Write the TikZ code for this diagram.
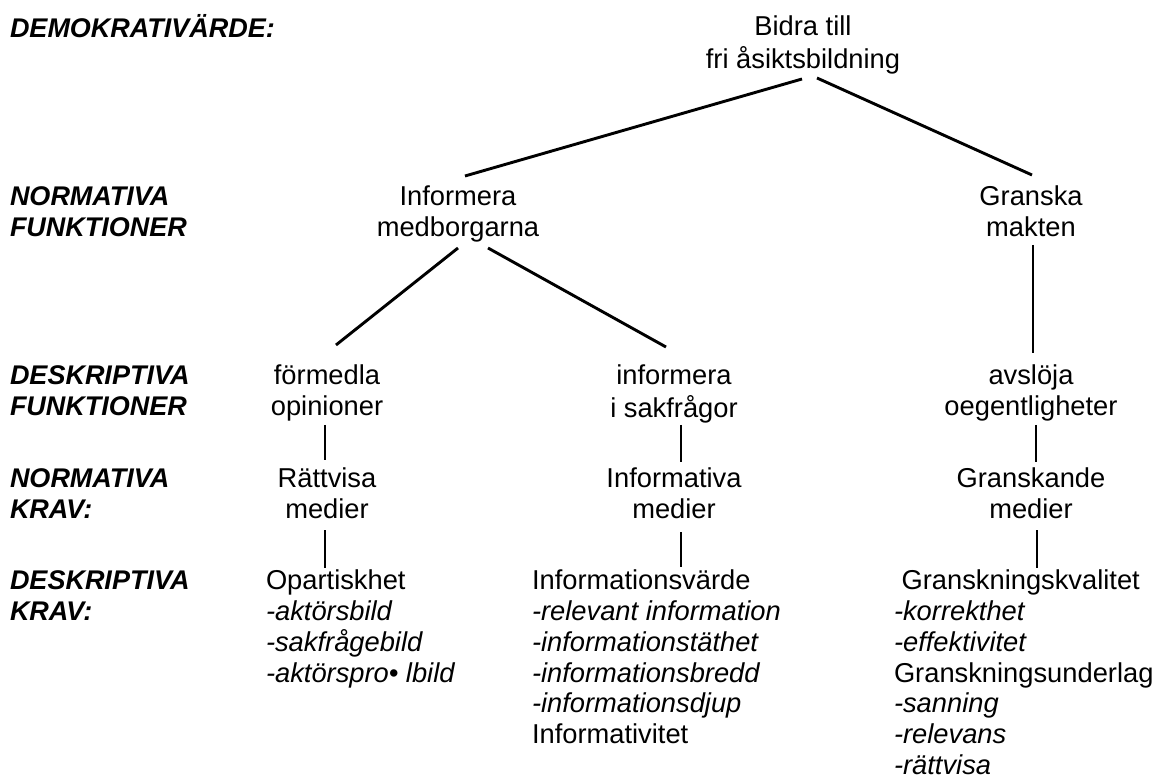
\documentclass[tikz,border=0pt]{standalone}
\usepackage{fontspec}
\setmainfont{Liberation Sans}
\begin{document}
\begin{tikzpicture}[x=1pt,y=-1pt,
  txt/.style={inner sep=0pt, outer sep=0pt, font=\fontsize{27.3}{30.7}\selectfont},
  ctr/.style={txt, anchor=north, align=center},
  lft/.style={txt, anchor=north west, align=left},
  lvl/.style={lft, font=\fontsize{27}{30.7}\selectfont\bfseries\itshape},
  conn/.style={line width=2.9pt}]
\useasboundingbox (0,0) rectangle (1152,783);
% level labels
\node[lvl] (demo) at (10,14.5) {\strut DEMOKRATIVÄRDE:};
\node[lvl] (nf) at (10,184.5) {\strut NORMATIVA\\FUNKTIONER};
\node[lvl] (df) at (10,363.5) {\strut DESKRIPTIVA\\FUNKTIONER};
\node[lvl] (nk) at (10,466.5) {\strut NORMATIVA\\KRAV:};
\node[lvl] (dk) at (10,568.5) {\strut DESKRIPTIVA\\KRAV:};
% tree
\node[ctr] (bidra) at (803,14.5) {\strut Bidra till\\fri åsiktsbildning};
\node[ctr] (info) at (458,184.5) {\strut Informera\\medborgarna};
\node[ctr] (gran) at (1031,184.5) {\strut Granska\\makten};
\node[ctr] (form) at (327,363.5) {\strut förmedla\\opinioner};
\node[ctr] (insak) at (674,363.5) {\strut informera\\i sakfrågor};
\node[ctr] (avsl) at (1031,363.5) {\strut avslöja\\oegentligheter};
\node[ctr] (ratt) at (327,466.5) {\strut Rättvisa\\medier};
\node[ctr] (infm) at (674,466.5) {\strut Informativa\\medier};
\node[ctr] (grm) at (1031,466.5) {\strut Granskande\\medier};
\node[lft] (opart) at (266,568.5) {\strut Opartiskhet\\\textit{-aktörsbild}\\\textit{-sakfrågebild}\\\textit{-aktörspro• lbild}};
\node[lft] (infv) at (532,568.5) {\strut Informationsvärde\\\textit{-relevant information}\\\textit{-informationstäthet}\\\textit{-informationsbredd}\\\textit{-informationsdjup}\\Informativitet};
\node[lft] (gkv) at (894,568.5) {\strut\hspace*{0.278em}Granskningskvalitet\\\textit{-korrekthet}\\\textit{-effektivitet}\\Granskningsunderlag\\\textit{-sanning}\\\textit{-relevans}\\\textit{-rättvisa}};
% connectors
\draw[conn] ([shift={(-1,64.5)}]bidra.north) -- ([shift={(7,-8.5)}]info.north);
\draw[conn] ([shift={(14,63.5)}]bidra.north) -- ([shift={(1,-9.5)}]gran.north);
\draw[conn] ([shift={(0,63.5)}]info.north) -- ([shift={(9,-18.5)}]form.north);
\draw[conn] ([shift={(30,63.5)}]info.north) -- ([shift={(-8,-16.5)}]insak.north);
\draw[conn] ([shift={(2,60.5)}]gran.north) -- ([shift={(2,-10.5)}]avsl.north);
\draw[conn] ([shift={(-2,61.5)}]form.north) -- ([shift={(-2,-6.5)}]ratt.north);
\draw[conn] ([shift={(7,61.5)}]insak.north) -- ([shift={(7,-4.5)}]infm.north);
\draw[conn] ([shift={(5,61.5)}]avsl.north) -- ([shift={(5,-4.5)}]grm.north);
\draw[conn] ([shift={(-2,63.5)}]ratt.north) -- ([shift={(59,-0.5)}]opart.north west);
\draw[conn] ([shift={(7,65.5)}]infm.north) -- ([shift={(149,-1.5)}]infv.north west);
\draw[conn] ([shift={(6,63.5)}]grm.north) -- ([shift={(143,-0.5)}]gkv.north west);
\end{tikzpicture}
\end{document}
